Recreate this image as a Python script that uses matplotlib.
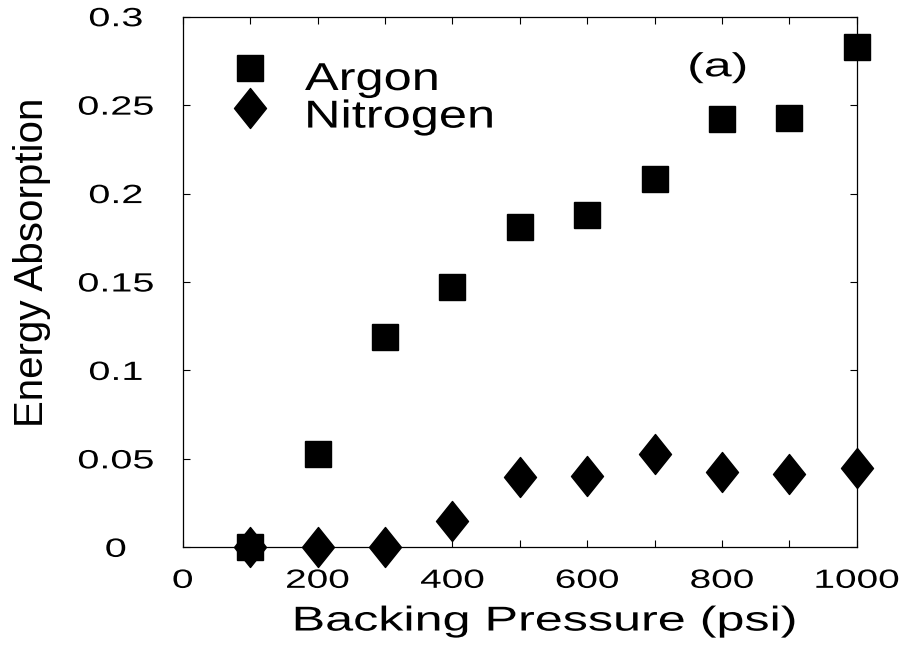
import matplotlib
matplotlib.use("Agg")
import matplotlib.pyplot as plt
from matplotlib.path import Path
from matplotlib.patheffects import AbstractPathEffect
from matplotlib.transforms import Affine2D
from matplotlib.ticker import FixedLocator, MultipleLocator

# ---- data -------------------------------------------------------------
pressure = [100, 200, 300, 400, 500, 600, 700, 800, 900, 1000]
argon = [0.0, 0.053, 0.119, 0.147, 0.181, 0.188, 0.208, 0.242, 0.243, 0.283]
nitrogen = [0.0, 0.0, 0.0, 0.015, 0.0396, 0.0403, 0.053, 0.0427, 0.0413, 0.0447]

x_ticks = [0, 200, 400, 600, 800, 1000]
x_tick_labels = ["0", "200", "400", "600", "800", "1000"]
y_ticks = [0, 0.05, 0.1, 0.15, 0.2, 0.25, 0.3]
y_tick_labels = ["0", "0.05", "0.1", "0.15", "0.2", "0.25", "0.3"]

series_labels = ["Argon", "Nitrogen"]
x_label = "Backing Pressure (psi)"
y_label = "Energy Absorption"
panel_tag = "(a)"


class HStretch(AbstractPathEffect):
    """Widen glyph outlines horizontally about a chosen anchor."""

    def __init__(self, sx, anchor="center"):
        super().__init__()
        self.sx = sx
        self.anchor = anchor

    def draw_path(self, renderer, gc, tpath, affine, rgbFace=None):
        bb = tpath.get_extents(affine)
        if self.anchor == "left":
            x0 = bb.x0
        elif self.anchor == "right":
            x0 = bb.x1
        else:
            x0 = 0.5 * (bb.x0 + bb.x1)
        t = affine + Affine2D().translate(-x0, 0).scale(self.sx, 1.0).translate(x0, 0)
        renderer.draw_path(gc, tpath, t, rgbFace)


plt.rcParams["font.family"] = ["Liberation Sans", "DejaVu Sans"]

W, H = 903, 657
fig = plt.figure(figsize=(W / 100, H / 100), dpi=100)
ax = fig.add_axes([182.7 / W, 1 - 547.3 / H, 674.0 / W, 530.6 / H])

# tall thin diamond marker
diamond = Path([(0, 1), (0.8, 0), (0, -1), (-0.8, 0), (0, 1)],
               [Path.MOVETO, Path.LINETO, Path.LINETO, Path.LINETO, Path.CLOSEPOLY])

ax.plot(pressure, argon, linestyle="none", marker="s", markersize=18.7,
        color="black", clip_on=False, zorder=3, label=series_labels[0])
ax.plot(pressure, nitrogen, linestyle="none", marker=diamond, markersize=28.8,
        color="black", clip_on=False, zorder=4, label=series_labels[1])

ax.set_xlim(0, 1000)
ax.set_ylim(0, 0.3)

for s in ax.spines.values():
    s.set_linewidth(0.9)

ax.xaxis.set_major_locator(FixedLocator(x_ticks))
ax.xaxis.set_minor_locator(MultipleLocator(100))
ax.set_xticklabels(x_tick_labels)
ax.yaxis.set_major_locator(FixedLocator(y_ticks))
ax.set_yticklabels(y_tick_labels)

ax.tick_params(axis="both", which="both", direction="in", length=5, width=0.8,
               top=True, right=True)
ax.tick_params(axis="x", which="major", labelsize=19, pad=15.5)
ax.tick_params(axis="y", which="major", labelsize=19, pad=48.2)

for lbl in ax.get_yticklabels():
    lbl.set_ha("center")
    lbl.set_path_effects([HStretch(1.5, "center")])
for lbl in ax.get_xticklabels():
    lbl.set_path_effects([HStretch(1.47, "center")])

xl = ax.set_xlabel(x_label, fontsize=24.8)
ax.xaxis.set_label_coords(0.5375, -0.1116)
xl.set_va("top")
xl.set_path_effects([HStretch(1.46, "center")])

ax.set_ylabel(y_label, fontsize=29)
ax.yaxis.set_label_coords(-0.1947, 0.5377)

ax.text(0.794, 0.8877, panel_tag, transform=ax.transAxes, fontsize=24,
        ha="center", va="baseline",
        path_effects=[HStretch(1.5, "center")])

fs_leg = 28
leg = ax.legend(loc="upper left",
                bbox_to_anchor=(230.5 / W, 1 - 62 / H),
                bbox_transform=fig.transFigure,
                frameon=False, fontsize=fs_leg, borderpad=0, borderaxespad=0,
                handlelength=1.0, handletextpad=0.915,
                labelspacing=0.04, numpoints=1)
for t in leg.get_texts():
    t.set_path_effects([HStretch(1.3, "left")])
# lift the legend symbols a little above the text centre line
for h, dy in zip(leg.legend_handles, (8, 6)):
    h.set_transform(h.get_transform() + Affine2D().translate(0, dy))

fig.savefig("out.png", dpi=100)
